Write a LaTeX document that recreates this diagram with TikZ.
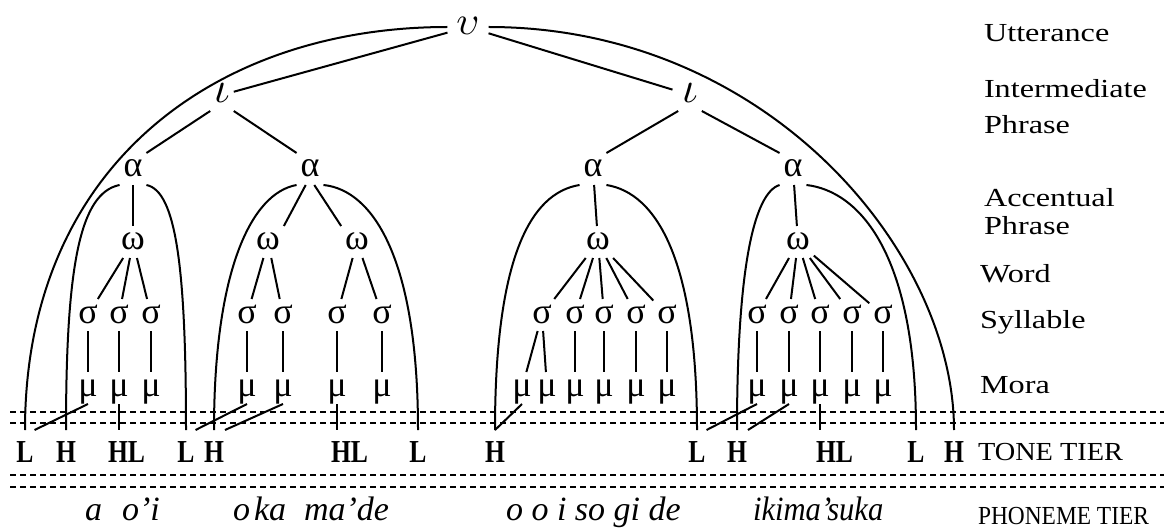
\documentclass[tikz,border=0pt]{standalone}
\usepackage{fontspec}
\setmainfont{Liberation Serif}
\usepackage{graphicx}
\usetikzlibrary{calc}
\newcommand{\bigsym}[2]{{\fontsize{10}{12}\selectfont\scalebox{#1}{$#2$}}}
\begin{document}
\begin{tikzpicture}[x=1pt,y=-1pt,line width=2pt,
  sym/.style={font=\fontsize{36}{36}\selectfont,inner xsep=3pt,inner ysep=7pt,text height=16pt,text depth=0pt},
  tone/.style={font=\fontsize{32}{32}\selectfont\bfseries,anchor=base,inner xsep=0pt,inner ysep=10pt,text height=21pt,text depth=0pt},
  tonew/.style={tone,anchor=base west},
  lvl/.style={font=\fontsize{26}{26}\selectfont,anchor=base west,inner sep=0pt},
  phon/.style={font=\fontsize{34}{34}\selectfont\itshape,anchor=base west,inner sep=0pt},
  tier/.style={dash pattern=on 6pt off 4pt,line width=2pt}]
\useasboundingbox (0,0) rectangle (1164,529);

% ---------- prosodic nodes ----------
\node[sym,inner xsep=8pt,inner ysep=3pt] (u) at (468,27) {\bigsym{4}{\upsilon}};
\node[sym] (i1) at (222,95) {\bigsym{4.4}{\iota}};
\node[sym] (i2) at (690,95) {\bigsym{4.4}{\iota}};

\node[sym] (a1) at (133,169) {α};
\node[sym] (a2) at (310,169) {α};
\node[sym] (a3) at (593,169) {α};
\node[sym] (a4) at (793,169) {α};

\node[sym] (w1) at (133,242) {ω};
\node[sym] (w2) at (268,242) {ω};
\node[sym] (w3) at (357,242) {ω};
\node[sym] (w4) at (598,242) {ω};
\node[sym] (w5) at (798,242) {ω};

\foreach \n/\x in {11/88,12/119,13/151,21/247,22/283,31/337,32/382,
                   41/542,42/575,43/604,44/636,45/667,
                   51/757,52/789,53/820,54/852,55/883}
  \node[sym] (s\n) at (\x,315) {σ};

\foreach \n/\x in {11/88,12/119,13/151,21/247,22/283,31/337,32/382,
                   41a/522,41b/547,42/575,43/604,44/636,45/667,
                   51/757,52/789,53/820,54/852,55/883}
  \node[sym] (m\n) at (\x,388) {μ};

% ---------- tone tier ----------
\node[tone] (L1) at (25,462) {\scalebox{0.8}[1]{L}};
\node[tone] (H1) at (66,462) {\scalebox{0.8}[1]{H}};
\node[tonew] (HL1) at (107,462) {\scalebox{0.8}[1]{HL}};
\node[tone] (L2) at (186,462) {\scalebox{0.8}[1]{L}};
\node[tone] (H2) at (214,462) {\scalebox{0.8}[1]{H}};
\node[tonew] (HL2) at (330,462) {\scalebox{0.8}[1]{HL}};
\node[tone] (L3) at (418,462) {\scalebox{0.8}[1]{L}};
\node[tone] (H3) at (495,462) {\scalebox{0.8}[1]{H}};
\node[tone] (L4) at (697,462) {\scalebox{0.8}[1]{L}};
\node[tone] (H4) at (737,462) {\scalebox{0.8}[1]{H}};
\node[tonew] (HL3) at (815,462) {\scalebox{0.8}[1]{HL}};
\node[tone] (L5) at (916,462) {\scalebox{0.8}[1]{L}};
\node[tone] (H5) at (954,462) {\scalebox{0.8}[1]{H}};

% ---------- phoneme tier ----------
\node[phon] (p1) at (84,520) {a};
\node[phon] (p2) at (121,520) {o’i};
\node[phon] (p3) at (232,520) {o};
\node[phon] (p4) at (253,520) {ka};
\node[phon] (p5) at (303,520) {ma’de};
\node[phon] (p6) at (505,520) {o o i so gi de};
\node[phon] (p7) at (752,520) {\scalebox{0.9}[1]{ikima’suka}};

% ---------- level labels ----------
\node[lvl] (tU) at (983,42) {\scalebox{1.24}[1]{Utterance}};
\node[lvl] (tI) at (983,98) {\scalebox{1.24}[1]{Intermediate}};
\node[lvl] (tIP) at (983,134) {\scalebox{1.24}[1]{Phrase}};
\node[lvl] (tA) at (983,207) {\scalebox{1.24}[1]{Accentual}};
\node[lvl] (tAP) at (983,235) {\scalebox{1.24}[1]{Phrase}};
\node[lvl] (tW) at (979,283) {\scalebox{1.24}[1]{Word}};
\node[lvl] (tS) at (979,328) {\scalebox{1.24}[1]{Syllable}};
\node[lvl] (tM) at (979,393) {\scalebox{1.24}[1]{Mora}};
\node[lvl] (tT) at (977,460) {\scalebox{1.09}[1]{TONE TIER}};
\node[lvl] (tP) at (977,524) {\scalebox{0.9}[1]{PHONEME TIER}};

% ---------- tier boundaries ----------
\foreach \y in {412,423,475,487}
  \draw[tier] (10,\y) -- (1164,\y);

% ---------- tree links ----------
\draw (u) -- (i1);
\draw[shorten >=6pt] (u) -- (i2);
\draw (i1.south west) -- (a1.north east);
\draw (i1.south east) -- (a2.north west);
\draw (i2.south west) -- (a3.north east);
\draw (i2.south east) -- (a4.north west);

\draw (a1) -- (w1);
\draw (a2.255) -- (w2.north east);
\draw (a2.285) -- (w3.north west);
\draw (a3) -- (w4);
\draw (a4) -- (w5);

\foreach \s in {11,12,13} \draw (w1) -- (s\s);
\foreach \s in {21,22} \draw (w2) -- (s\s);
\foreach \s in {31,32} \draw (w3) -- (s\s);
\foreach \s in {41,42,43,44,45} \draw (w4) -- (s\s);
\foreach \s in {51,52,53,54,55} \draw (w5) -- (s\s);

\foreach \s in {11,12,13,21,22,31,32,42,43,44,45,51,52,53,54,55}
  \draw (s\s) -- (m\s);
\draw (s41) -- (m41a);
\draw (s41) -- (m41b);

% ---------- boundary arcs ----------
\draw (u.west) .. controls +(-232,0) and +(0,-264) .. (L1.north);
\draw (u.east) .. controls +(278,0) and +(0,-179) .. (H5.north);
\draw (a1.south west) .. controls +(-40,8) and +(0,-163) .. (H1.north);
\draw (a1.south east) .. controls +(30,6) and +(0,-160) .. (L2.north);
\draw (a2.south west) .. controls +(-45,8) and +(0,-160) .. (H2.north);
\draw (a2.south east) .. controls +(50,5) and +(0,-170) .. (L3.north);
\draw (a3.south west) .. controls +(-50,8) and +(0,-170) .. (H3.north);
\draw (a3.south east) .. controls +(50,8) and +(0,-170) .. (L4.north);
\draw (a4.south west) .. controls +(-26,8) and +(0,-160) .. (H4.north);
\draw (a4.south east) .. controls +(52,6) and +(0,-178) .. (L5.north);

% ---------- mora-to-tone associations ----------
\draw (m11.south) -- (L1.north east);
\draw (m12.south) -- (m12.south |- HL1.north);
\draw (m21.south) -- (L2.north east);
\draw (m22.south) -- (H2.north east);
\draw (m31.south) -- (m31.south |- HL2.north);
\draw (m41a.south) -- (H3.north);
\draw (m51.south) -- (L4.north east);
\draw (m52.south) -- (H4.north east);
\draw (m53.south) -- (m53.south |- HL3.north);
\end{tikzpicture}
\end{document}
